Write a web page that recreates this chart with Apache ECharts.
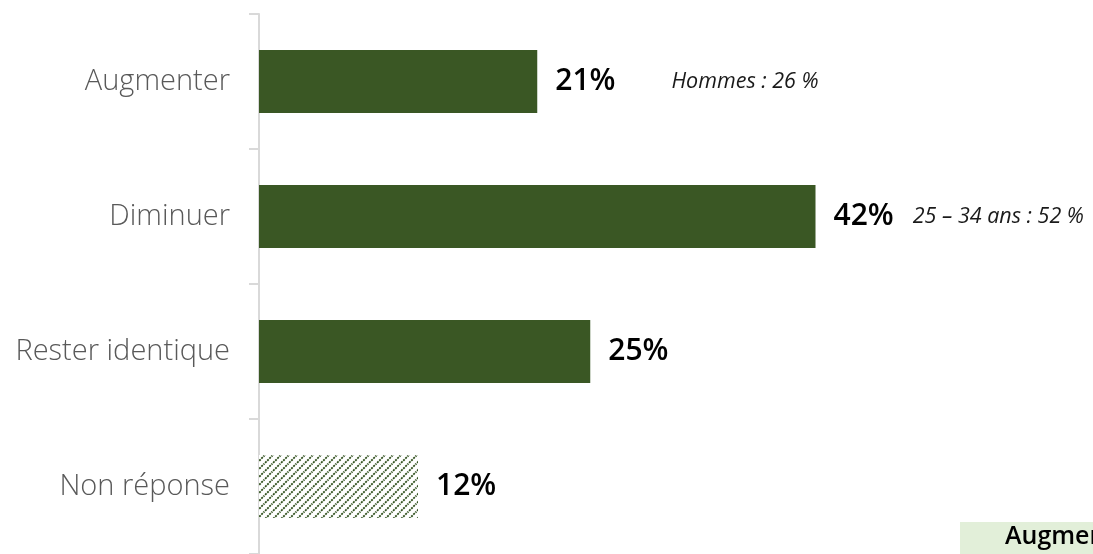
<!DOCTYPE html>
<html><head><meta charset="utf-8">
<script src="https://cdn.jsdelivr.net/npm/echarts@6/dist/echarts.min.js"></script>
<style>html,body{margin:0;padding:0;background:#fff}#c{width:1093px;height:554px}</style>
</head><body><div id="c"></div>
<script>
const categories = ['Augmenter', 'Diminuer', 'Rester identique', 'Non réponse'];
const values = [21, 42, 25, 12];
const notes = ['Hommes : 26 %', '25 – 34 ans : 52 %', '', ''];
const legendText = 'Augmenter';

const GREEN = '#3a5724';
// hatch pattern for "Non réponse"
const pc = document.createElement('canvas');
pc.width = 8; pc.height = 8;
const pctx = pc.getContext('2d');
pctx.fillStyle = '#ffffff'; pctx.fillRect(0, 0, 8, 8);
pctx.strokeStyle = '#2f4f1c'; pctx.lineWidth = 1.8;
pctx.setLineDash([2, 1]);
pctx.beginPath(); pctx.moveTo(-1, 9); pctx.lineTo(9, -1); pctx.stroke();
pctx.beginPath(); pctx.moveTo(-1, 1); pctx.lineTo(1, -1); pctx.stroke();
pctx.beginPath(); pctx.moveTo(7, 9); pctx.lineTo(9, 7); pctx.stroke();

const FONT = 'Open Sans';
const chart = echarts.init(document.getElementById('c'));
const noteStyles = [{padding: [0, 0, 0, 56]}, {padding: [0, 0, 0, 19]}];
chart.setOption({
  animation: false,
  grid: {left: 259, right: 39, top: 14, bottom: -2, containLabel: false},
  xAxis: {type: 'value', min: 0, max: 60, show: false},
  yAxis: {
    type: 'category', data: categories, inverse: true,
    axisLine: {show: true, lineStyle: {color: '#d9d9d9', width: 2}},
    axisTick: {show: true, length: 10, lineStyle: {color: '#d9d9d9', width: 2}},
    axisLabel: {margin: 29, fontFamily: FONT, fontWeight: 300, fontSize: 29, color: '#595959'}
  },
  series: [{
    type: 'bar', barWidth: 63,
    data: values.map((v, i) => ({
      value: v,
      itemStyle: {color: i === 3 ? {image: pc, repeat: 'repeat'} : GREEN}
    })),
    label: {
      show: true, position: 'right', distance: 18,
      formatter: p => {
        const n = notes[p.dataIndex];
        return '{v|' + p.value + '%}' + (n ? '{n' + p.dataIndex + '|' + n + '}' : '');
      },
      rich: {
        v: {fontFamily: FONT, fontWeight: 600, fontSize: 30, color: '#000'},
        n0: Object.assign({fontFamily: FONT, fontStyle: 'italic', fontSize: 21.5, color: '#1a1a1a'}, noteStyles[0]),
        n1: Object.assign({fontFamily: FONT, fontStyle: 'italic', fontSize: 21.5, color: '#1a1a1a'}, noteStyles[1])
      }
    }
  }],
  graphic: [
    {type: 'rect', left: 960, top: 522, shape: {width: 140, height: 40}, style: {fill: '#e2efd9'}},
    {type: 'text', left: 1005, top: 524, style: {text: legendText, font: '600 25px "Open Sans"', fill: '#000'}}
  ]
});
</script></body></html>
